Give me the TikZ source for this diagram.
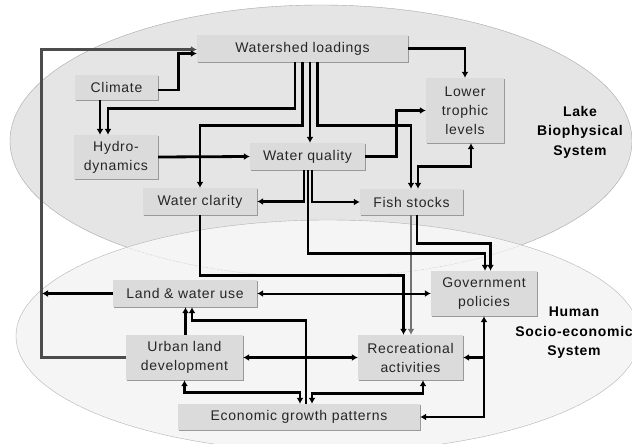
\documentclass[tikz,border=0pt]{standalone}
\usepackage{fontspec}
\setmainfont{Liberation Sans}[LetterSpace=5]
\usepackage{tikz}
\usetikzlibrary{arrows.meta,calc,shadows}

\begin{document}
\begin{tikzpicture}[x=1pt,y=-1pt,every node/.style={font=\fontsize{14}{19}\selectfont,text=black!85},
 box/.style={fill=black!14,inner sep=0pt,align=center,drop shadow={shadow xshift=1.3pt,shadow yshift=-1.3pt,fill=black!40,opacity=1}},
 link/.style={line width=2.8pt,-{Latex[length=6pt,width=7pt]}},
 both/.style={line width=2.8pt,{Latex[length=6pt,width=7pt]}-{Latex[length=6pt,width=7pt]}},
 sys/.style={font=\fontsize{14}{19.5}\selectfont\bfseries,align=center,text=black}]
\useasboundingbox (0,0) rectangle (632,444);
% the two systems
\draw[black!30,fill=black!10] (321,141) ellipse [x radius=311pt,y radius=136pt];
\draw[black!30,fill=black!4] (328,336) ellipse [x radius=312pt,y radius=116pt];
\draw[black!30,densely dotted] (321,141) ellipse [x radius=311pt,y radius=136pt];
\node[sys] (lake) at (580,132) {Lake\\Biophysical\\System};
\node[sys] (human) at (574,333) {Human\\Socio-economic\\System};
% boxes
\node[box,minimum width=211pt,minimum height=27pt] (ws) at (302.5,48.5) {Watershed loadings};
\node[box,minimum width=83pt,minimum height=25pt] (clim) at (116.5,87.5) {Climate};
\node[box,minimum width=84pt,minimum height=44pt] (hyd) at (116,157) {Hydro-\\dynamics};
\node[box,minimum width=115pt,minimum height=27pt] (wq) at (307.5,156.5) {Water quality};
\node[box,minimum width=78pt,minimum height=65pt] (ltl) at (465,110.5) {Lower\\trophic\\levels};
\node[box,minimum width=114pt,minimum height=27pt] (wc) at (200,201.5) {Water clarity};
\node[box,minimum width=103pt,minimum height=26pt] (fish) at (411.5,202) {Fish stocks};
\node[box,minimum width=144pt,minimum height=27pt] (land) at (185,293.5) {Land \& water use};
\node[box,minimum width=106pt,minimum height=45pt] (gov) at (484,293.5) {Government\\policies};
\node[box,minimum width=117pt,minimum height=45pt] (urban) at (184.5,357.5) {Urban land\\development};
\node[box,minimum width=105pt,minimum height=45pt] (rec) at (410.5,357.5) {Recreational\\activities};
\node[box,minimum width=242pt,minimum height=26pt] (econ) at (299,417) {Economic growth patterns};
\coordinate (wsfeed) at (42,293.5);
% links
\draw[link,black!70] (urban.west) -- ++(-84,0) |- ([yshift=-1pt]ws.west);
\draw[link] (land.west) -- (wsfeed);
\draw[link] ([yshift=-2.5pt]clim.east) -| ([xshift=-18pt,yshift=-5pt]ws.west) -- ([yshift=-5pt]ws.west);
\draw[link] ([xshift=-16.5pt]clim.south) -- ([xshift=-16.5pt]clim.south |- hyd.north);
\draw[link] ([xshift=-7.5pt]ws.south) -- ++(0,46) -| ([xshift=-8pt]hyd.north);
\draw[link] (ws.south) -- ++(0,63) -| (wc.north);
\draw[link] ([xshift=7.5pt]ws.south) -- ([xshift=7.5pt]ws.south |- wq.north);
\draw[link] ([xshift=15pt]ws.south) -- ++(0,63) -| ([xshift=-0.5pt]fish.north);
\draw[link] (ws.east) -| (ltl.north);
\draw[link] (wq.east) -- ++(31,0) |- (ltl.west);
\draw[both] ([xshift=6.5pt]fish.north) -- ++(0,-22) -| ([xshift=6pt]ltl.south);
\draw[link] (hyd.east) -- (wq.west);
\draw[link,black!55] ([xshift=-0.5pt]fish.south) -- ([xshift=-0.5pt]fish.south |- rec.north);
\draw[link] ([xshift=-3.5pt]wq.south) |- (wc.east);
\draw[link] ([xshift=4.5pt]wq.south) |- (fish.west);
\draw[link] ([xshift=0.5pt]wq.south) -- ++(0,83) -| ([xshift=1pt]gov.north);
\draw[link] ([xshift=5.5pt]fish.south) -- ++(0,28) -| ([xshift=6.5pt]gov.north);
\draw[link] (wc.south) -- ++(0,60) -| ([xshift=-7pt]rec.north);
\draw[both,line width=2pt] (land.east) -- (gov.west);
\draw[link] ([xshift=1pt]urban.north) -- ([xshift=1pt]urban.north |- land.south);
\draw[link] ([xshift=7pt]econ.north) -- ++(0,-83) -| ([xshift=7pt]land.south);
\draw[both] (urban.south) -- ++(0,12) -| ([xshift=1pt]econ.north);
\draw[both] ([xshift=12.5pt]rec.south) -- ++(0,13) -| ([xshift=13pt]econ.north);
\draw[both] (urban.east) -- (rec.west);
\draw[both] (gov.south) |- (econ.east);
\draw[link] (gov.south |- rec.east) -- (rec.east);
\end{tikzpicture}
\end{document}
